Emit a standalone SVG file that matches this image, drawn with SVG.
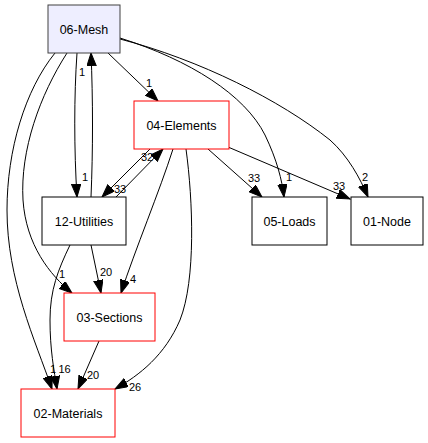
<svg xmlns="http://www.w3.org/2000/svg" width="428" height="443" viewBox="0 0 428 443">
<style>
.node rect{fill:#ffffff;stroke:#000000;stroke-width:1}
.node.red rect{stroke:#ff0000}
.node.main rect{fill:#eeeeff;stroke:#404040}
.node text{font-family:"Liberation Sans",Arial,sans-serif;font-size:12.5px;fill:#000;text-anchor:middle}
.edges path{fill:none;stroke:#000;stroke-width:1;marker-end:url(#arr)}
.edges text{font-family:"Liberation Sans",Arial,sans-serif;font-size:11px;fill:#000;text-anchor:middle}
</style>
<defs>
<marker id="arr" markerUnits="userSpaceOnUse" markerWidth="14" markerHeight="10" refX="13" refY="4.7" orient="auto" viewBox="0 0 14 10">
<path d="M0,0 L13,4.7 L0,9.4 z" fill="#000" stroke="#000" stroke-width="1"/>
</marker>
</defs>
<rect width="428" height="443" fill="#ffffff"/>
<g class="edges">
<path d="M108,53 L158,101"/>
<path d="M77,53 C74,95 74,150 77,197"/>
<path d="M91,197 C93,150 93,100 91,53"/>
<path d="M67,53 C40,95 20,150 23,200 C26,245 50,275 72,293"/>
<path d="M55,53 C25,90 7,150 7,210 C7,280 35,340 52,389"/>
<path d="M70,245 C58,270 50,290 50,320 C50,350 54,370 57,389"/>
<path d="M120,38 C190,60 245,95 265,135 C277,160 282,180 284,197"/>
<path d="M120,39 C200,60 280,100 330,140 C348,156 360,178 368,197"/>
<path d="M208,149 L262,197"/>
<path d="M228,147 L350,199"/>
<path d="M150,149 L102,197"/>
<path d="M116,197 L163,149"/>
<path d="M173,149 C160,190 135,250 121,293"/>
<path d="M186,149 C193,200 196,280 180,320 C165,355 140,375 115,389"/>
<path d="M91,245 L101,293"/>
<path d="M99,341 L78,389"/>
<text x="149" y="87">1</text>
<text x="85" y="181">1</text>
<text x="82" y="76">1</text>
<text x="62" y="278">1</text>
<text x="53" y="373">1</text>
<text x="64.5" y="373">16</text>
<text x="289" y="181">1</text>
<text x="365" y="181">2</text>
<text x="254" y="182">33</text>
<text x="339" y="190">33</text>
<text x="120" y="193">33</text>
<text x="147" y="161">32</text>
<text x="133" y="283">4</text>
<text x="135" y="391">26</text>
<text x="106" y="276">20</text>
<text x="93" y="379">20</text>
</g>
<g id="n06" class="node main"><rect x="48" y="5" width="72" height="48"/><text x="84" y="33.5">06-Mesh</text></g>
<g id="n04" class="node red"><rect x="134" y="101" width="95" height="48"/><text x="181.5" y="129.5">04-Elements</text></g>
<g id="n12" class="node"><rect x="42" y="197" width="84" height="48"/><text x="84" y="225.5">12-Utilities</text></g>
<g id="n05" class="node"><rect x="252" y="197" width="75" height="48"/><text x="289.5" y="225.5">05-Loads</text></g>
<g id="n01" class="node"><rect x="351" y="197" width="72" height="48"/><text x="387" y="225.5">01-Node</text></g>
<g id="n03" class="node red"><rect x="64" y="293" width="91" height="48"/><text x="109.5" y="321.5">03-Sections</text></g>
<g id="n02" class="node red"><rect x="21" y="389" width="94" height="48"/><text x="68" y="417.5">02-Materials</text></g>
</svg>
